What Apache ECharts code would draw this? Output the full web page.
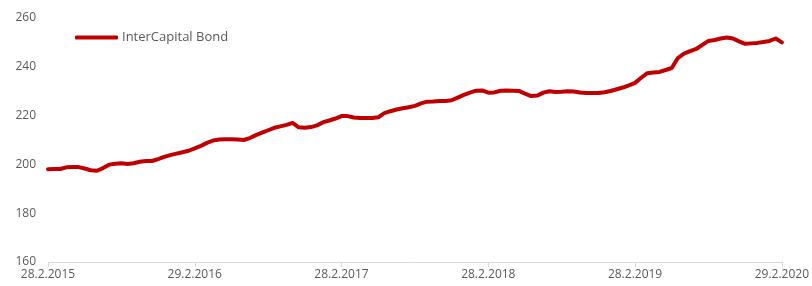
<!DOCTYPE html>
<html>
<head>
<meta charset="utf-8">
<script src="https://cdn.jsdelivr.net/npm/echarts@6/dist/echarts.min.js"></script>
<style>
  html, body { margin: 0; padding: 0; background: #fff; }
  #chart { width: 812px; height: 286px; }
</style>
</head>
<body>
<div id="chart"></div>
<script>
// tick labels on the x axis, one per year (every 24th half-month point)
const tickLabels = ['28.2.2015', '29.2.2016', '28.2.2017', '28.2.2018', '28.2.2019', '29.2.2020'];
const pointsPerTick = 24;

// fund value, roughly every half month from 28.2.2015 to 29.2.2020
const bondValues = [
  198.0, 198.1, 198.1, 198.8, 198.9, 198.9, 198.3, 197.6, 197.4, 198.5,
  199.9, 200.3, 200.5, 200.2, 200.5, 201.1, 201.4, 201.4, 202.2, 203.1,
  203.8, 204.4, 205.0, 205.6, 206.6, 207.6, 208.8, 209.8, 210.2, 210.3,
  210.3, 210.2, 210.0, 210.8, 212.0, 213.0, 214.0, 215.0, 215.6, 216.2,
  217.0, 215.2, 215.0, 215.3, 216.0, 217.3, 218.0, 218.8, 219.8, 219.8,
  219.2, 219.0, 219.0, 219.0, 219.3, 221.0, 221.8, 222.5, 223.0, 223.4,
  224.0, 225.0, 225.7, 225.8, 226.0, 226.0, 226.3, 227.4, 228.5, 229.4,
  230.2, 230.3, 229.4, 229.5, 230.2, 230.3, 230.2, 230.1, 229.0, 228.0,
  228.2, 229.4, 230.0, 229.7, 229.8, 230.0, 229.9, 229.5, 229.3, 229.3,
  229.3, 229.6, 230.1, 230.8, 231.5, 232.4, 233.4, 235.5, 237.4, 237.7,
  237.9, 238.7, 239.5, 243.6, 245.4, 246.4, 247.3, 249.0, 250.6, 251.0,
  251.6, 252.0, 251.6, 250.4, 249.4, 249.6, 249.8, 250.2, 250.6, 251.6,
  250.0
];
const categories = bondValues.map((v, i) => String(i));

const chart = echarts.init(document.getElementById('chart'));
const labelColor = '#595959';

const option = {
  animation: false,
  textStyle: { fontFamily: 'Open Sans' },
  grid: { left: 48, right: 28, top: 18, bottom: 24, containLabel: false },
  legend: {
    left: 70,
    top: 26,
    icon: 'roundRect',
    itemWidth: 43,
    itemHeight: 4,
    textStyle: { color: labelColor, fontSize: 13, fontFamily: 'Open Sans', padding: [0, 0, 0, -1] },
    data: ['InterCapital Bond']
  },
  xAxis: {
    type: 'category',
    data: categories,
    boundaryGap: false,
    axisLine: { lineStyle: { color: '#d9d9d9', width: 1 } },
    axisTick: {
      show: true,
      length: 5,
      interval: pointsPerTick - 1,
      lineStyle: { color: '#d9d9d9' }
    },
    axisLabel: {
      interval: pointsPerTick - 1,
      color: labelColor,
      fontSize: 12,
      margin: 7,
      formatter: (val, idx) => tickLabels[idx / pointsPerTick] || ''
    },
    splitLine: { show: false }
  },
  yAxis: {
    type: 'value',
    min: 160,
    max: 260,
    interval: 20,
    axisLine: { show: false },
    axisTick: { show: false },
    splitLine: { show: false },
    axisLabel: { color: labelColor, fontSize: 12, margin: 12 }
  },
  series: [{
    name: 'InterCapital Bond',
    type: 'line',
    data: bondValues,
    showSymbol: false,
    symbol: 'none',
    color: '#c00000',
    lineStyle: { color: '#c00000', width: 4, cap: 'round', join: 'round' }
  }]
};

chart.setOption(option);
</script>
</body>
</html>
